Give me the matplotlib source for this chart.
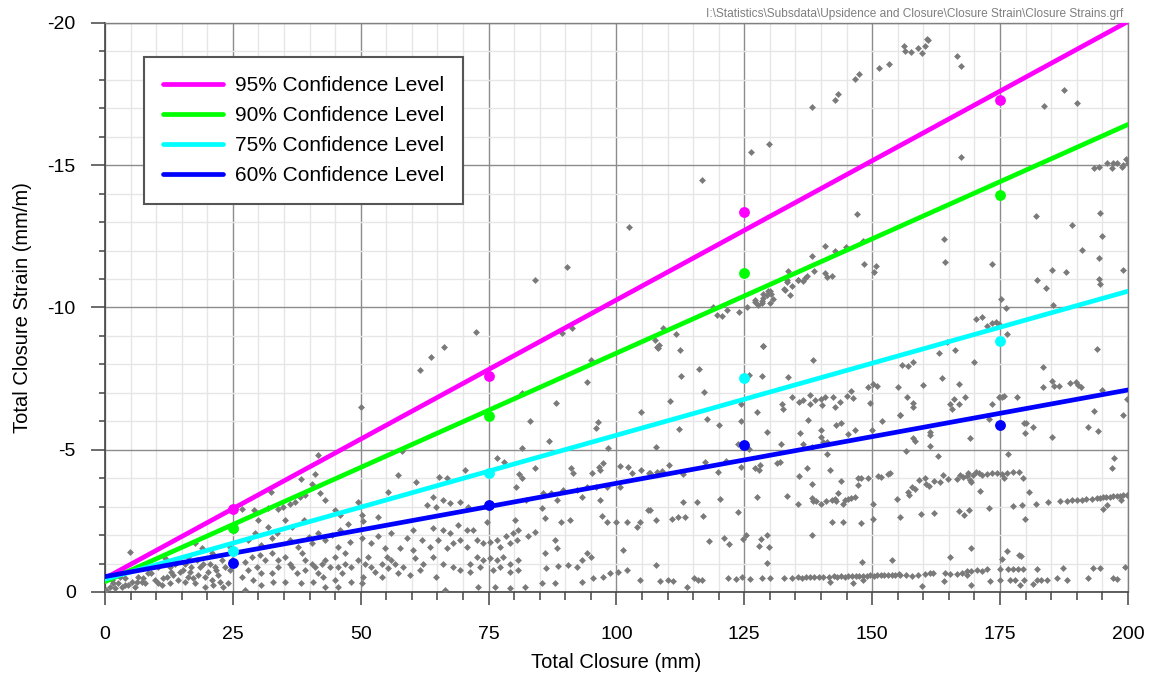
import matplotlib
matplotlib.use("Agg")
import matplotlib.pyplot as plt
from matplotlib.ticker import MultipleLocator, FuncFormatter

plt.rcParams['font.family'] = ['Liberation Sans', 'DejaVu Sans']
plt.rcParams['axes.unicode_minus'] = False

# ---------------- data ----------------
conf_labels = ["95% Confidence Level", "90% Confidence Level",
               "75% Confidence Level", "60% Confidence Level"]
conf_colors = ["#ff00ff", "#00ff00", "#00ffff", "#0000ff"]

# fitted lines (closure endpoints and strain values)
line_closure = [0, 200]
line_95 = [-0.48, -20.05]
line_90 = [-0.36, -16.43]
line_75 = [-0.45, -10.57]
line_60 = [-0.54, -7.10]

# confidence points at class centres
class_closure = [25, 75, 125, 175]
pts_95 = [-2.91, -7.59, -13.37, -17.28]
pts_90 = [-2.24, -6.20, -11.21, -13.94]
pts_75 = [-1.45, -4.19, -7.51, -8.83]
pts_60 = [-1.01, -3.06, -5.17, -5.86]

# observed data (closure mm, strain mm/m)
obs_points = [
    # lower-left dense cloud
    (4.9, -1.42), (50, -6.5), (41.7, -4.8), (41.1, -4.15), (38.4, -3.96), (40.4, -3.8),
    (42, -3.47), (32.5, -3.5), (26.7, -2.9), (29.1, -2.88), (31.9, -2.94), (33.9, -2.9),
    (34.9, -2.97), (36.2, -3.1), (37.1, -3.17), (38.1, -3.35), (39.1, -3.4), (43, -3.23),
    (45, -2.88), (45.9, -2.7), (49.5, -3.17), (50.2, -2.7), (50.5, -2.5), (53.4, -2.65),
    (55.4, -3.5), (57.3, -4.1), (47.6, -2.39), (45.9, -2.18), (44.3, -2.0), (30, -2.53),
    (31.9, -2.3), (33.6, -2.06), (32.6, -1.89), (35.2, -2.53), (36.5, -2.3), (38.9, -2.53),
    (39.8, -1.94), (41.7, -2.06), (38.5, -1.36), (39.1, -1.12), (41.1, -0.89), (42.4, -1.0),
    (41.7, -0.66), (42.7, -0.54), (45.6, -0.89), (46.9, -1.0), (48.2, -0.36), (49.5, -1.12),
    (50.8, -1.0), (52.1, -0.89), (54.1, -1.0), (55.4, -0.83), (56, -1.12), (54.1, -0.54),
    (50.5, -0.54), (46.3, -0.66), (45, -0.42), (43, -0.19), (44, -0.89), (35.2, -1.24),
    (36.2, -1.0), (33.9, -0.89), (32.6, -0.66), (35.2, -0.36), (31.3, -1.12), (29.7, -0.89),
    (28, -0.77), (26.7, -0.54), (27.4, -0.07), (30.6, -0.66), (29, -0.42), (25.4, -2.18),
    (24.4, -1.59), (24.8, -1.12), (24.4, -0.77), (24.1, -0.3), (1.3, -0.42), (2.6, -0.3),
    (3.9, -0.48), (5.2, -0.36), (6.5, -0.54), (7.8, -0.3), (8.5, -0.66), (9.8, -0.42),
    (10.4, -0.89), (11.1, -0.25), (12.1, -0.54), (13, -0.71), (13.7, -1.0), (14.3, -0.42),
    (15.3, -0.77), (16.3, -0.54), (16.9, -0.89), (17.6, -0.3), (18.2, -0.6), (19.2, -1.0),
    (19.6, -0.19), (20.2, -0.71), (20.9, -0.42), (21.5, -0.89), (22.2, -0.6), (22.8, -1.12),
    (23.1, -0.19), (18.9, -1.53), (20.9, -1.36), (16.3, -1.24), (13.7, -1.12), (11.7, -1.18),
    (17.6, -1.71), (0.3, -0.07), (1, -0.19), (2, -0.13), (3.3, -0.19), (4.6, -0.25),
    (5.9, -0.19), (7.2, -0.36), (10.4, -0.3), (11.4, -0.48), (12.7, -0.3), (13.4, -0.6),
    (14.7, -0.71), (15.6, -0.36), (16.6, -0.71), (17.3, -0.48), (18.6, -0.89), (19.6, -0.54),
    (20.5, -1.0), (21.2, -0.25), (21.8, -0.77), (22.5, -0.36), (23.5, -0.89), (15.6, -1.0),
    (17.9, -1.12), (12.7, -0.89), (9.1, -0.66), (7.5, -0.48), (3.9, -0.25), (6.2, -0.36),
    (2.9, -0.54), (1.6, -0.3), (27.4, -1.07), (28.7, -1.24), (30.3, -1.3), (32.6, -1.36),
    (33.9, -1.12), (36.5, -0.89), (37.5, -0.66), (39.1, -0.77), (40.4, -1.0), (43, -1.12),
    (45, -1.24), (46.9, -1.36), (48.2, -0.89), (51.5, -1.24), (52.8, -0.71), (55.1, -1.24),
    (56.7, -1.0), (57.3, -0.66), (38.4, -0.3), (40.7, -0.36), (45.6, -0.19), (50.2, -0.3),
    (30.6, -0.25), (32.9, -0.36), (28, -1.83), (29.3, -2.06), (30.6, -1.65), (36.2, -1.83),
    (37.8, -1.59), (40.4, -1.71), (43, -1.83), (45.6, -1.59), (47.9, -1.77), (50.2, -1.89),
    (52.1, -1.71), (53.4, -1.95), (56, -2.06), (54.7, -1.53),
    # 57 - 107 mm
    (72.5, -9.12), (66.3, -8.62), (63.7, -8.27), (61.6, -7.8), (89.4, -9.09), (91.4, -9.29),
    (95.1, -8.15), (94.2, -7.39), (88.1, -6.63), (81.5, -6.98), (83.1, -6.02), (96.3, -5.99),
    (96, -5.78), (86.9, -5.31), (81.5, -5.05), (98.4, -5.05), (104.9, -6.32), (76.6, -4.71),
    (78, -4.56), (70.4, -4.29), (65.3, -4.05), (66.9, -3.99), (60.9, -3.85), (80.9, -4.15),
    (81.6, -3.99), (80.3, -3.7), (84.1, -4.37), (91.2, -4.35), (91.6, -4.17), (95.3, -4.17),
    (96.6, -4.41), (97.4, -4.52), (96.8, -4.29), (100.7, -4.44), (102.3, -4.41), (103, -4.19),
    (104.9, -4.29), (106.4, -4.17), (87.3, -3.49), (89.6, -3.59), (92.2, -3.59), (94.2, -3.7),
    (96.1, -3.7), (93.2, -3.35), (96.8, -3.23), (98.1, -3.7), (100.7, -3.7), (85.7, -3.47),
    (88.3, -3.23), (82.4, -3.23), (66.1, -3.23), (67.4, -3.12), (64.8, -3.0), (62.9, -3.06),
    (69.4, -3.15), (64.2, -3.35), (71, -3.0), (85.4, -2.94), (97.1, -2.67), (98.1, -2.47),
    (100, -2.47), (102, -2.47), (104, -2.27), (104.6, -2.47), (106.2, -2.88), (80.2, -2.53),
    (86, -2.59), (89.1, -2.47), (91, -2.53), (74.7, -2.47), (64.2, -2.24), (66.1, -2.18),
    (67.4, -2.06), (69.1, -2.36), (70.7, -2.18), (72, -2.18), (60.3, -2.18), (59, -1.89),
    (61.9, -1.83), (63.5, -1.59), (65.2, -1.83), (66.8, -1.53), (68.1, -1.71), (69.4, -1.83),
    (70.7, -1.59), (72.7, -1.83), (74, -1.71), (75.3, -1.77), (76.6, -1.83), (77.2, -1.59),
    (78.5, -1.95), (79.8, -2.06), (80.8, -2.18), (82.8, -1.95), (84.1, -2.12), (79.2, -1.71),
    (80.5, -1.83), (57.7, -1.53), (60.3, -1.48), (60.6, -1.18), (62.2, -1.0), (64.2, -1.24),
    (66.1, -1.0), (68.1, -0.89), (69.4, -0.77), (71.4, -1.0), (72.7, -1.24), (74, -1.12),
    (75.3, -1.18), (76.6, -1.12), (77.9, -1.24), (79.2, -1.0), (80.8, -1.12), (77.2, -0.89),
    (73.3, -0.89), (75.9, -0.77), (58.3, -0.89), (59.6, -0.6), (61.6, -0.77), (64.8, -0.54),
    (71.4, -0.71), (79.2, -0.71), (80.8, -0.77), (88, -1.83), (88.3, -1.53), (86, -1.36),
    (86.3, -0.83), (88.6, -0.91), (90.6, -0.95), (92.2, -0.89), (93.2, -1.12), (94.2, -1.36),
    (95.1, -1.24), (101.3, -1.48), (102, -0.77), (100.3, -0.71), (98.7, -0.66), (97.4, -0.54),
    (95.5, -0.48), (104.6, -0.42), (73, -0.19), (76.2, -0.19), (79.2, -0.13), (82.1, -0.19),
    (85.4, -0.3), (88, -0.3), (93.2, -0.36), (66.5, -0.07), (58, -4.97),
    # upper region
    (84.1, -10.95), (90.3, -11.41), (102.5, -12.82), (116.8, -14.48), (126.4, -15.48),
    (129.9, -15.75), (138.3, -17.05), (140.8, -12.15), (138.3, -11.82), (138.6, -11.27),
    (140.8, -11.21), (141.1, -11.07), (137.3, -11.12), (136.8, -11.04), (136.5, -10.92),
    (135.5, -10.95), (133.6, -11.27), (133.3, -10.98), (134.4, -10.74), (132.9, -10.63),
    (133.9, -10.45), (130, -10.57), (129.4, -10.45), (128.6, -10.33), (127.1, -10.25),
    (128.4, -10.22), (130.7, -10.28), (127.6, -10.09), (128.7, -10.47), (129.6, -10.59),
    (130.3, -10.47), (132.7, -10.64), (133.4, -10.9), (135.5, -10.97),
    (142.7, -17.28), (143.4, -17.5), (146.6, -18.04), (147.5, -18.22), (151.4, -18.4),
    (153.3, -18.57), (156.2, -19.2), (156.4, -19.0), (157.5, -18.99), (159, -19.11),
    (159.7, -18.96), (160.3, -19.2), (160.8, -19.45), (161, -19.39), (166.6, -18.83),
    (167.4, -18.5), (167.3, -15.28), (183.6, -17.07), (187.5, -17.66), (190, -17.18),
    (147, -13.3), (142.7, -11.97), (144.9, -12.13), (148.3, -12.33), (142.2, -11.1),
    (148.4, -11.53), (150.7, -11.47), (150.4, -11.26), (164, -12.42), (164.2, -11.61),
    (173.5, -11.54), (175.1, -10.3), (182, -13.23), (189, -12.89), (191, -12.02),
    (185.1, -11.32), (187.9, -11.25), (182.3, -10.97), (184, -10.69), (194.5, -13.32),
    (194.9, -12.52), (194.4, -11.73), (194.4, -11.0), (194.5, -10.84), (199.1, -11.32),
    (193.4, -14.89), (194.4, -14.94), (196, -15.08), (196.8, -14.9), (197.1, -15.08),
    (197.9, -15.08), (198.8, -14.94), (199, -15.0), (199.7, -15.22), (200, -15.08),
    # 107 - 156 mm
    (119.6, -9.74), (120.6, -9.7), (121.7, -9.91), (124, -9.83), (125.5, -10.03),
    (127.1, -10.2), (128.4, -10.15), (130, -10.15), (118.9, -10.03), (109.2, -9.27),
    (111.6, -9.06), (107.9, -8.62), (108.2, -8.56), (112.4, -8.51), (107.5, -8.86),
    (108.4, -8.68), (128.7, -8.66), (128.6, -8.65), (116.1, -7.85), (112.7, -7.59),
    (128.4, -7.59), (133.5, -7.55), (138.5, -8.15), (126, -7.62), (117.2, -7.03),
    (110.5, -6.71), (124.3, -6.61), (127.4, -6.33), (132.3, -6.61), (132.5, -6.43),
    (134.4, -6.84), (135.7, -6.67), (136.5, -6.75), (137.8, -6.92), (137.8, -6.61),
    (138.8, -6.75), (139.9, -6.78), (140.1, -6.57), (140.8, -6.87), (142.4, -6.87),
    (142.7, -6.51), (143.7, -6.69), (145, -6.9), (145.8, -7.07), (146.3, -6.83),
    (149.2, -7.19), (150.1, -7.31), (150.9, -7.24), (149.6, -6.63), (155.1, -7.22),
    (155.4, -6.22), (117.8, -6.07), (112.3, -5.72), (120, -5.86), (124.3, -6.02),
    (129.5, -5.64), (137.5, -6.05), (143, -5.87), (144, -5.93), (146.6, -5.69),
    (152, -6.02), (149.9, -5.69), (107.7, -5.11), (123.8, -5.19), (125.9, -5.01),
    (132.1, -5.2), (135.9, -5.58), (136.5, -5.2), (139.9, -5.69), (139.9, -5.46),
    (140.4, -5.28), (141.1, -5.28), (141.2, -4.84), (145.2, -5.55), (138.2, -5.11),
    (117.4, -4.56), (119.9, -4.23), (121.4, -4.6), (124.3, -4.38), (127, -4.37),
    (127.9, -4.29), (128, -4.46), (131.3, -4.52), (132, -4.58), (110.3, -4.46),
    (106.5, -4.19), (107.9, -4.23), (109, -4.26), (113, -4.15), (135.7, -4.09),
    (137.2, -4.35), (141.7, -4.29), (144, -3.91), (147.2, -4.01), (147.9, -4.01),
    (149.2, -4.01), (151.2, -4.09), (151.8, -4.05), (153.1, -4.15), (153.5, -4.17),
    (138.2, -3.78), (147.3, -3.75), (133.3, -3.39), (135.5, -3.08), (138.2, -3.32),
    (138.4, -3.18), (139.1, -3.2), (139.9, -3.09), (141, -3.2), (142.1, -3.23),
    (142.7, -3.27), (143, -3.18), (143.4, -3.49), (144.2, -3.09), (144.7, -3.23),
    (145.3, -3.26), (145.8, -3.29), (146.6, -3.33), (150.1, -3.09), (154.8, -3.27),
    (127.4, -3.35), (123.8, -2.82), (120.2, -3.28), (115.7, -3.16), (113.1, -3.16),
    (116.9, -2.68), (107.8, -2.53), (110.8, -2.58), (112.1, -2.62), (113.4, -2.62),
    (106.5, -2.88), (142.1, -2.47), (144.2, -2.47), (147.8, -2.41), (150.1, -2.57),
    (118.1, -1.8), (121, -1.9), (122.1, -1.68), (124.7, -1.86), (125.3, -2.0),
    (128.2, -1.86), (127.9, -1.62), (129.5, -1.99), (129.9, -1.57), (138.2, -2.0),
    (129.4, -1.03), (107.7, -0.95), (153.8, -1.12), (148.1, -1.04),
    (132.7, -0.49), (134.3, -0.5), (135.5, -0.52), (136.2, -0.5), (137.0, -0.52),
    (137.8, -0.51), (138.7, -0.53), (139.6, -0.52), (140.4, -0.54), (141.5, -0.53),
    (142.5, -0.55), (143.1, -0.54), (144.0, -0.55), (144.6, -0.53), (145.3, -0.56),
    (146.1, -0.55), (146.8, -0.57), (147.5, -0.56), (148.2, -0.57), (148.9, -0.55),
    (149.6, -0.58), (150.3, -0.57), (151.0, -0.59), (151.7, -0.58), (152.4, -0.6),
    (153.1, -0.59), (153.8, -0.61), (154.5, -0.6), (155.2, -0.62),
    (108.6, -0.39), (110.1, -0.42), (111.1, -0.39), (113.8, -0.16), (115.2, -0.5),
    (116, -0.42), (116.8, -0.42), (121.9, -0.48), (123.4, -0.45), (124.5, -0.54),
    (126.1, -0.45), (128.4, -0.5), (130, -0.5), (141.7, -0.36), (146.2, -0.33),
    (148.3, -0.42),
    # 155 - 200 mm
    (176.1, -9.97), (185.3, -10.09), (170.3, -9.6), (171.5, -9.68), (172.4, -9.36),
    (173.5, -9.44), (174.3, -9.5), (174.8, -9.42), (176.3, -9.06), (164.6, -8.8),
    (166.1, -8.51), (163.1, -8.39), (193.9, -8.54), (158, -8.1), (157.1, -7.94),
    (155.8, -7.98), (169.9, -8.07), (183.3, -7.9), (163.6, -7.51), (160, -7.26),
    (167, -7.31), (185.1, -7.43), (183.4, -7.19), (185.5, -7.24), (186.6, -7.24),
    (188.7, -7.33), (189.8, -7.39), (190.3, -7.28), (190.8, -7.19), (195, -7.1),
    (156.9, -6.84), (168.1, -6.87), (166, -6.77), (167, -6.61), (165.3, -6.61),
    (165.7, -6.42), (158, -6.63), (158, -6.49), (174.8, -6.84), (175.3, -6.87),
    (175.8, -6.89), (178.4, -6.84), (173.5, -6.61), (155.4, -6.22), (193.4, -6.36),
    (199.9, -6.77), (199.1, -6.22), (172.9, -6.08), (179.7, -5.95), (180, -5.93),
    (181.5, -5.81), (179.9, -5.58), (185.1, -5.45), (192.1, -5.8), (194.1, -5.67),
    (158, -5.4), (158.4, -5.32), (161.4, -5.64), (161.4, -5.52), (161.4, -5.14),
    (169.1, -5.4), (176.6, -4.84), (156.7, -4.97), (162.8, -4.79), (197.3, -4.72),
    (196.9, -4.35), (163.9, -4.11), (164.9, -3.96), (163.2, -3.88), (162, -3.91),
    (160.3, -3.99), (159.2, -3.94), (161.2, -3.74), (160.6, -3.78), (166.5, -3.96),
    (167.2, -4.11), (167.8, -4.05), (168.5, -4.09), (169.1, -3.94), (169.4, -3.88),
    (169.8, -4.11), (170.3, -4.23), (170.9, -4.19), (171.4, -4.11), (172.4, -4.15),
    (173.4, -4.17), (174.5, -4.19), (175.3, -4.15), (175.8, -4.0), (176.4, -4.19),
    (177.6, -4.23), (178.7, -4.23), (179.5, -4.0), (168.8, -4.19), (157.1, -3.53),
    (157.7, -3.7), (158.4, -3.61), (157.2, -3.4), (171, -3.55), (180.6, -3.5),
    (182, -3.09), (184.4, -3.15), (186.7, -3.19), (188, -3.21), (189, -3.22),
    (190, -3.23), (191, -3.25), (191.9, -3.27), (192.9, -3.28), (193.9, -3.3),
    (194.5, -3.32), (195.2, -3.33), (195.8, -3.34), (196.5, -3.35), (197.1, -3.36),
    (197.8, -3.37), (198.4, -3.39), (199.1, -3.4), (199.9, -3.42), (195.2, -2.9),
    (196, -3.05), (198.6, -3.23), (155.4, -2.65), (159.5, -2.73), (162.1, -2.77),
    (167, -2.85), (168, -2.71), (168.9, -2.88), (172.9, -2.94), (177.5, -3.02),
    (179.2, -3.06), (179.9, -2.57), (169.3, -1.53), (165.2, -1.24), (176.4, -1.45),
    (175.3, -1.16), (178.7, -1.3), (179.0, -1.28),
    (155.4, -0.6), (156.7, -0.6), (157.7, -0.57), (159, -0.58), (160.3, -0.62),
    (161.3, -0.66), (161.9, -0.68), (164.2, -0.66), (165.2, -0.63), (166.5, -0.63),
    (167.5, -0.66), (168.5, -0.73), (169.4, -0.75), (170.4, -0.77), (171.4, -0.75),
    (172.5, -0.8), (175, -0.8), (176.6, -0.8), (177.6, -0.8), (178.6, -0.8),
    (179.5, -0.8), (159.7, -0.22), (164.1, -0.39), (168.5, -0.6), (169.4, -0.25),
    (173, -0.4), (175, -0.42), (176.9, -0.42), (177.9, -0.42), (178.9, -0.25),
    (179.7, -0.42), (181.5, -0.27), (182.2, -0.42), (183.1, -0.42), (184.1, -0.42),
    (186.1, -0.48), (188, -0.42), (187.4, -0.83), (182.3, -0.8), (192.1, -0.48),
    (193.1, -0.86), (194.5, -0.86), (197, -0.48), (197.8, -0.47), (199.4, -0.87),
]

x_ticks = [0, 25, 50, 75, 100, 125, 150, 175, 200]
y_ticks = [0, -5, -10, -15, -20]
file_path = r"I:\Statistics\Subsdata\Upsidence and Closure\Closure Strain\Closure Strains.grf"

# ---------------- figure ----------------
fig = plt.figure(figsize=(11.52, 6.73), dpi=100)
ax = fig.add_axes([0.0911, 0.1204, 0.888, 0.8455])

obs_x = [p[0] for p in obs_points]
obs_y = [p[1] for p in obs_points]
ax.plot(obs_x, obs_y, ls='none', marker='D', ms=3.5, color='#7a7a7a',
        mec='none', zorder=3, clip_on=True)

line_sets = [line_95, line_90, line_75, line_60]
pt_sets = [pts_95, pts_90, pts_75, pts_60]
handles = []
for lab, col, ly, py in zip(conf_labels, conf_colors, line_sets, pt_sets):
    h, = ax.plot(line_closure, ly, color=col, lw=3.4, solid_capstyle='round',
                 zorder=4, label=lab)
    ax.plot(class_closure, py, ls='none', marker='o', ms=7.8, color=col,
            mec='none', zorder=5, clip_on=False)
    handles.append(h)

ax.set_xlim(0, 200)
ax.set_ylim(0, -20)

ax.set_xticks(x_ticks)
ax.set_yticks(y_ticks)
ax.xaxis.set_minor_locator(MultipleLocator(5))
ax.yaxis.set_minor_locator(MultipleLocator(1))
ax.yaxis.set_major_formatter(FuncFormatter(lambda v, p: "%d" % round(v)))

ax.grid(which='minor', color='#e6e6e6', lw=1.0, zorder=0)
ax.grid(which='major', color='#8c8c8c', lw=1.0, zorder=1)
ax.set_axisbelow(True)

ax.tick_params(axis='x', which='major', length=9.5, width=1.1, color='#444444',
               labelsize=14, pad=15)
ax.tick_params(axis='x', which='minor', length=6, width=1.1, color='#444444')
ax.tick_params(axis='y', which='major', length=10, width=1.1, color='#444444',
               labelsize=14, pad=11)
ax.tick_params(axis='y', which='minor', length=4.5, width=1.1, color='#444444')

for s in ['left', 'bottom']:
    ax.spines[s].set_color('#444444')
    ax.spines[s].set_linewidth(1.2)
for s in ['top', 'right']:
    ax.spines[s].set_color('#808080')
    ax.spines[s].set_linewidth(1.0)

ax.set_xlabel("Total Closure (mm)", fontsize=14.5, labelpad=7)
ax.set_ylabel("Total Closure Strain (mm/m)", fontsize=14.5, labelpad=11)

leg = ax.legend(handles=handles, loc='upper left', bbox_to_anchor=(0.038, 0.94),
                borderaxespad=0, fontsize=15, frameon=True, fancybox=False,
                handlelength=2.9, handletextpad=0.6, labelspacing=0.53,
                borderpad=0.9)
leg.get_frame().set_edgecolor('#555555')
leg.get_frame().set_linewidth(1.5)
leg.get_frame().set_alpha(1)
leg.set_zorder(10)

fig.text(0.975, 0.988, file_path, ha='right', va='top', fontsize=8.6,
         color='#7f7f7f')

fig.savefig("out.png", dpi=100)
